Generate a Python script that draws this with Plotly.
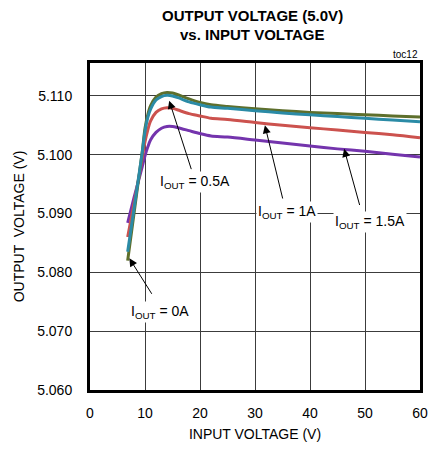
import plotly.graph_objects as go

# Input voltage sample points (V)
vin = [6.85, 8, 9, 9.5, 10, 10.5, 11, 12, 13, 14, 15, 16, 18, 20, 22, 25, 30, 35, 40, 45, 50, 55, 60]

# Output voltage (V) per load current
vout_0a = [5.0820, 5.0900, 5.0970, 5.1005, 5.1045, 5.1068, 5.1083, 5.1098, 5.1104, 5.1106, 5.1105, 5.1102,
           5.1095, 5.1089, 5.1085, 5.1082, 5.1078, 5.1075, 5.1072, 5.1070, 5.1068, 5.1066, 5.1064]
vout_05a = [5.0835, 5.0908, 5.0972, 5.1004, 5.1040, 5.1063, 5.1077, 5.1093, 5.1099, 5.1101, 5.1100, 5.1097,
            5.1090, 5.1085, 5.1081, 5.1079, 5.1075, 5.1071, 5.1068, 5.1065, 5.1062, 5.1059, 5.1056]
vout_1a = [5.0860, 5.0917, 5.0968, 5.0995, 5.1022, 5.1042, 5.1057, 5.1072, 5.1078, 5.1080, 5.1079, 5.1076,
           5.1070, 5.1066, 5.1062, 5.1060, 5.1055, 5.1050, 5.1046, 5.1042, 5.1038, 5.1034, 5.1029]
vout_15a = [5.0884, 5.0927, 5.0962, 5.0980, 5.0998, 5.1013, 5.1025, 5.1038, 5.1045, 5.1048, 5.1048, 5.1046,
            5.1041, 5.1036, 5.1032, 5.1030, 5.1025, 5.1020, 5.1015, 5.1010, 5.1006, 5.1001, 5.0996]

x_ticks = [0, 10, 20, 30, 40, 50, 60]
y_ticks = [5.060, 5.070, 5.080, 5.090, 5.100, 5.110]

FONT = "Liberation Sans, Arial, sans-serif"
W, H = 434, 452
ML, MR, MT, MB = 90, 14, 63, 62
PW, PH = W - ML - MR, H - MT - MB

fig = go.Figure()
series = [
    (vout_15a, "#7434ad", "1.5A"),
    (vout_1a, "#cc524e", "1A"),
    (vout_0a, "#5e6f2c", "0A"),
    (vout_05a, "#2b8ba6", "0.5A"),
]
for ys, col, name in series:
    fig.add_trace(go.Scatter(x=vin, y=ys, mode="lines", name=name,
                             line=dict(color=col, width=3, shape="spline", smoothing=0.8)))

# Label callouts: (text x, text y, arrow tail x, tail y, tip x, tip y, label)
callouts = [
    (19.1, 5.0953, 18.5, 5.0973, 14.4, 5.1092, "I<sub>OUT</sub> = 0.5A"),
    (35.8, 5.0903, 35.1, 5.0923, 31.8, 5.1050, "I<sub>OUT</sub> = 1A"),
    (50.9, 5.0885, 49.1, 5.0912, 46.2, 5.1010, "I<sub>OUT</sub> = 1.5A"),
    (12.7, 5.0732, 11.4, 5.0761, 7.15, 5.0824, "I<sub>OUT</sub> = 0A"),
]
for tx, ty, axx, ayy, hx, hy, label in callouts:
    fig.add_annotation(x=hx, y=hy, ax=axx, ay=ayy, xref="x", yref="y", axref="x", ayref="y",
                       text="", showarrow=True, arrowhead=2, arrowsize=1.6, arrowwidth=1,
                       arrowcolor="black")
    fig.add_annotation(x=tx, y=ty, xref="x", yref="y", text=label, showarrow=False,
                       bgcolor="white", borderpad=1,
                       font=dict(family=FONT, size=14, color="black"))

fig.add_annotation(x=1.0, y=1.0, xref="paper", yref="paper", xanchor="right", yanchor="bottom",
                   text="toc12", showarrow=False, yshift=1,
                   font=dict(family=FONT, size=10, color="black"))

# Two-line bold heading, placed by pixel position above the plot area
for line, ypx in [("OUTPUT VOLTAGE (5.0V)", 15), ("vs. INPUT VOLTAGE", 35)]:
    fig.add_annotation(x=(252 - ML) / PW, y=(H - MB - ypx) / PH, xref="paper", yref="paper",
                       xanchor="center", yanchor="middle", text=f"<b>{line}</b>",
                       showarrow=False, font=dict(family=FONT, size=15, color="black"))

fig.update_layout(
    width=W, height=H,
    margin=dict(l=ML, r=MR, t=MT, b=MB),
    paper_bgcolor="white", plot_bgcolor="white",
    showlegend=False,
    font=dict(family=FONT, size=14, color="black"),
)

fig.update_xaxes(range=[0, 60], tickvals=x_ticks, ticks="outside", ticklen=8, automargin=False,
                 tickcolor="rgba(0,0,0,0)", showgrid=True, gridcolor="#3c3c3c", gridwidth=1,
                 showline=True, linecolor="black", linewidth=3, mirror=True, zeroline=False,
                 title=dict(text="INPUT VOLTAGE (V)", standoff=10, font=dict(size=14)))
fig.update_yaxes(range=[5.060, 5.1156], tickvals=y_ticks, tickformat=".3f", ticks="outside",
                 ticklen=12, tickcolor="rgba(0,0,0,0)", showgrid=True, gridcolor="#3c3c3c",
                 gridwidth=1, showline=True, linecolor="black", linewidth=3, mirror=True,
                 zeroline=False, automargin=False,
                 title=dict(text="OUTPUT  VOLTAGE (V)", standoff=10, font=dict(size=14)))

fig.write_html("out.html")
